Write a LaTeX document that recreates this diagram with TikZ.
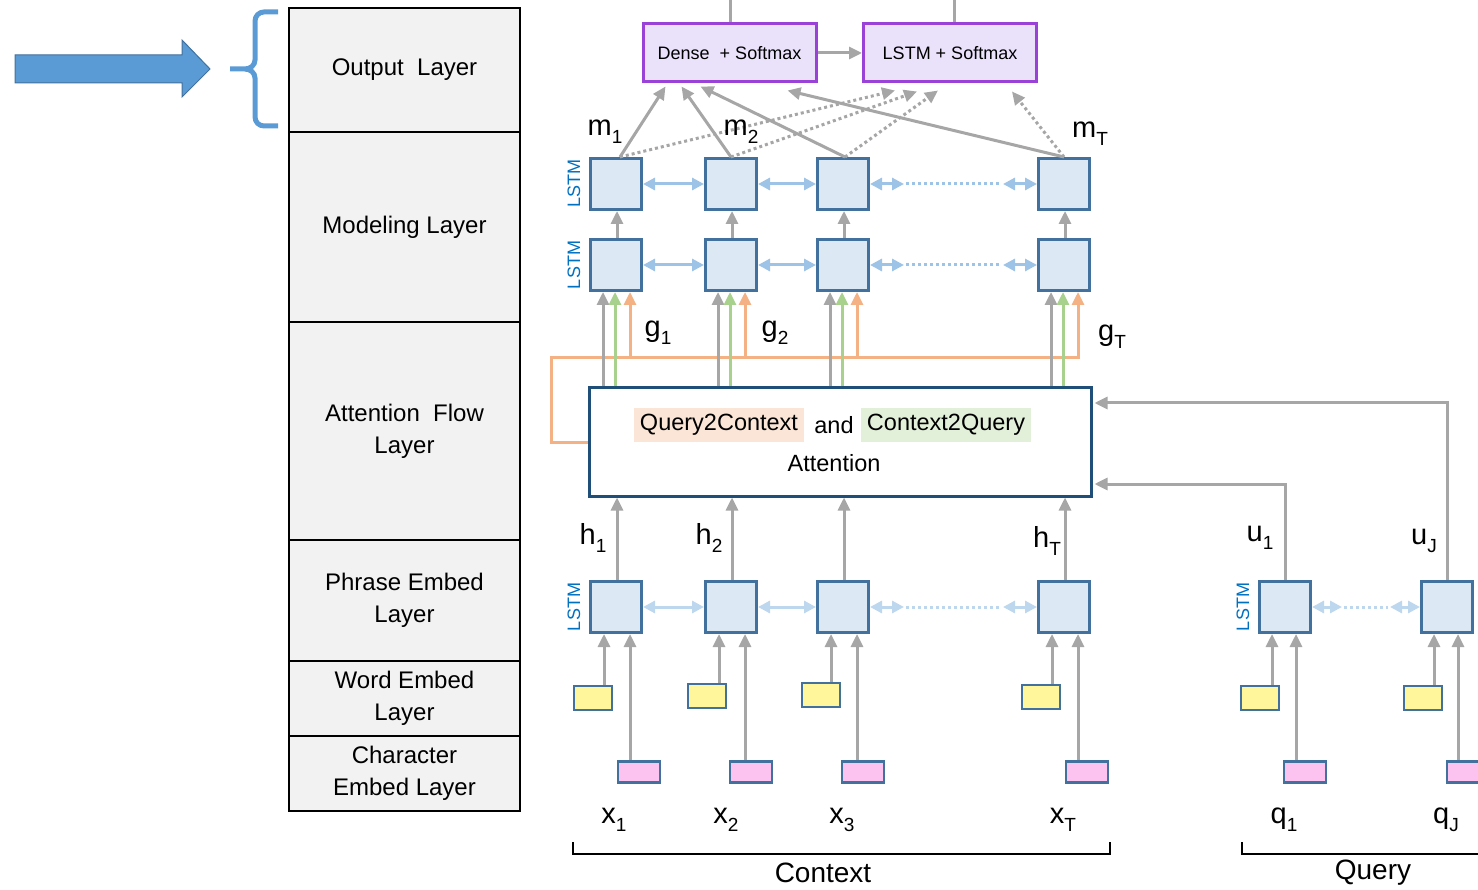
\documentclass[tikz,border=0pt]{standalone}
\usepackage{fontspec}
\setmainfont{Liberation Sans}
\usetikzlibrary{arrows.meta,calc}

\definecolor{laybg}{HTML}{F2F2F2}
\definecolor{cellbg}{HTML}{DDE8F5}
\definecolor{cellbd}{HTML}{41719C}
\definecolor{grayc}{HTML}{A6A6A6}
\definecolor{biblue}{HTML}{9DC3E6}
\definecolor{bilight}{HTML}{BDD7EE}
\definecolor{purbd}{HTML}{9A42D8}
\definecolor{purbg}{HTML}{EAE1FB}
\definecolor{attbd}{HTML}{1F4E79}
\definecolor{lstmtxt}{HTML}{0070C0}
\definecolor{yel}{HTML}{FFF59A}
\definecolor{pnk}{HTML}{FCC3F0}
\definecolor{orng}{HTML}{F4B183}
\definecolor{grn}{HTML}{A9D18E}
\definecolor{peach}{HTML}{FBE5D6}
\definecolor{lgreen}{HTML}{E2F0D9}
\definecolor{bigblue}{HTML}{5B9BD5}

% symbol with a lowered index
\newcommand\sbs[2]{#1\raisebox{-0.28em}{\fontsize{19}{19}\selectfont #2}}

\tikzset{
  layer/.style={draw=black, line width=2.5pt, fill=laybg, minimum width=231pt,
    align=center, font=\fontsize{24}{32}\selectfont, inner sep=0pt},
  cell/.style={draw=cellbd, fill=cellbg, line width=3pt, minimum size=51pt, inner sep=0pt},
  ybox/.style={draw=cellbd, fill=yel, line width=2.5pt, minimum width=38pt,
    minimum height=24pt, inner sep=0pt},
  pbox/.style={draw=cellbd, fill=pnk, line width=2.5pt, minimum width=42pt,
    minimum height=21pt, inner sep=0pt},
  outbox/.style={draw=purbd, fill=purbg, line width=3pt, minimum width=173pt,
    minimum height=58pt, font=\fontsize{18}{20}\selectfont},
  conn/.style={draw=grayc, line width=3pt, -{Triangle[length=13pt,width=12pt]}},
  dconn/.style={conn, dash pattern=on 3pt off 3pt},
  plainline/.style={draw=grayc, line width=3pt},
  gconn/.style={draw=grn, line width=3pt, -{Triangle[length=13pt,width=12pt]}},
  oconn/.style={draw=orng, line width=3pt, -{Triangle[length=13pt,width=12pt]}},
  oline/.style={draw=orng, line width=3pt},
  bi/.style={draw=biblue, line width=3pt, {Triangle[length=12pt,width=12pt]}-{Triangle[length=12pt,width=12pt]}},
  bidot/.style={draw=biblue, line width=3pt, dash pattern=on 3pt off 3pt},
  bil/.style={bi, draw=bilight},
  bildot/.style={bidot, draw=bilight},
  lstmlab/.style={rotate=90, text=lstmtxt, font=\fontsize{18}{18}\selectfont},
  sym/.style={font=\fontsize{29}{30}\selectfont},
  attxt/.style={font=\fontsize{23.5}{25}\selectfont},
  brk/.style={draw=black, line width=2.5pt},
}

\begin{document}
\begin{tikzpicture}[x=1pt, y=-1pt]
\useasboundingbox (0,0) rectangle (1478,890);
\clip (0,0) rectangle (1478,890);

% ---- layer table ----
\node[layer, minimum height=124pt] (lout)  at (404.5,70)  {Output~~Layer};
\node[layer, minimum height=190pt] (lmod)  at (404.5,227) {Modeling Layer};
\node[layer, minimum height=218pt] (latt)  at (404.5,431) {Attention~~Flow\\Layer};
\node[layer, minimum height=121pt] (lphr)  at (404.5,600.5) {Phrase Embed\\Layer};
\node[layer, minimum height=75pt]  (lword) at (404.5,698.5) {Word Embed\\Layer};
\node[layer, minimum height=75pt]  (lchar) at (404.5,773.5) {Character\\Embed Layer};

% ---- pointer arrow and brace ----
\fill[bigblue, draw=cellbd, line width=1pt]
  (15,55) -- (182,55) -- (182,40) -- (210,69) -- (182,97) -- (182,83) -- (15,83) -- cycle;
\draw[bigblue, line width=5pt]
  (278,12) -- (264,12) to[out=180,in=90] (255,21) -- (255,60)
  to[out=-90,in=0] (245,69) -- (230,69);
\draw[bigblue, line width=5pt]
  (245,69) to[out=0,in=90] (255,78) -- (255,117)
  to[out=-90,in=180] (264,126) -- (278,126);

% ---- output layer ----
\node[outbox] (dense) at (729.5,53) {Dense~~+~Softmax};
\node[outbox] (lsoft) at (950,53)   {LSTM~+~Softmax};
\draw[plainline] ($(dense.north)+(1,0)$) -- ++(0,-25);
\draw[plainline] ($(lsoft.north)+(4,0)$) -- ++(0,-25);
\draw[conn] (dense.east) -- (lsoft.west);

% ---- modeling layer cells ----
\foreach \n/\x in {1/616,2/731,3/843,4/1064}{
  \node[cell] (m\n) at (\x,184) {};
  \node[cell] (s\n) at (\x,265) {};
  \node[cell] (p\n) at (\x,607) {};
}
\node[lstmlab] (lab1) at (574,184) {LSTM};
\node[lstmlab] (lab2) at (574,265) {LSTM};
\node[lstmlab] (lab3) at (574,607) {LSTM};

% modeling layer: lower row feeds upper row
\foreach \n in {1,2,3,4}{
  \draw[conn] ($(s\n.north)+(1,0)$) -- ($(m\n.south)+(1,0)$);
}

% bidirectional links
\foreach \r in {m,s}{
  \draw[bi] (\r1.east) -- (\r2.west);
  \draw[bi] (\r2.east) -- (\r3.west);
  \draw[bi] (\r3.east) -- ($(\r3.east)+(34,0)$);
  \draw[bidot] ($(\r3.east)+(36,0)$) -- ($(\r4.west)+(-36,0)$);
  \draw[bi] ($(\r4.west)+(-34,0)$) -- (\r4.west);
}
\draw[bil] (p1.east) -- (p2.west);
\draw[bil] (p2.east) -- (p3.west);
\draw[bil] (p3.east) -- ($(p3.east)+(34,0)$);
\draw[bildot] ($(p3.east)+(36,0)$) -- ($(p4.west)+(-36,0)$);
\draw[bil] ($(p4.west)+(-34,0)$) -- (p4.west);

% outputs into the two softmax heads
\draw[conn]  ($(m1.north)+(4,0)$) -- ($(dense.south)+(-64,3)$);
\draw[conn]  (m2.north) -- ($(dense.south)+(-48,3)$);
\draw[conn]  ($(m3.north)+(2,0)$) -- ($(dense.south)+(-29,3)$);
\draw[conn]  (m4.north) -- ($(dense.south)+(58,7)$);
\draw[dconn] ($(m1.north)+(4,0)$) -- ($(lsoft.south)+(-55,7)$);
\draw[dconn] (m2.north) -- ($(lsoft.south)+(-33,8)$);
\draw[dconn] ($(m3.north)+(2,0)$) -- ($(lsoft.south)+(-12,7)$);
\draw[dconn] (m4.north) -- ($(lsoft.south)+(62,8)$);

% ---- attention flow ----
\node[draw=attbd, line width=3pt, fill=white, minimum width=502pt, minimum height=108pt] (att) at (840,442) {};
\node[attxt, fill=peach, minimum height=33pt, inner xsep=6pt] (q2c) at (719,425) {Query2Context};
\node[attxt, minimum height=33pt] (andw) at (834,425) {and};
\node[attxt, fill=lgreen, minimum height=33pt, inner xsep=6pt] (c2q) at (946,425) {Context2Query};
\node[attxt] (attw) at (834,463) {Attention};

\coordinate (bus) at (1080,358);
\draw[oline] (att.west) -- ++(-36,0) |- (bus);
\foreach \n in {1,2,3,4}{
  \draw[conn]  ([xshift=-13pt]s\n.south |- att.north) -- ([xshift=-13pt]s\n.south);
  \draw[gconn] ([xshift=-1pt]s\n.south |- att.north) -- ([xshift=-1pt]s\n.south);
  \draw[oconn] ([xshift=14pt]s\n.south |- bus) -- ([xshift=14pt]s\n.south);
  \draw[conn]  ([xshift=1pt]p\n.north) -- ([xshift=1pt]p\n.north |- att.south);
}

% ---- query side ----
\node[cell] (qp1) at (1285,607) {};
\node[cell] (qp2) at (1447,607) {};
\node[lstmlab] (lab4) at (1243,607) {LSTM};
\draw[bil] (qp1.east) -- ($(qp1.east)+(30,0)$);
\draw[bildot] ($(qp1.east)+(32,0)$) -- ($(qp2.west)+(-32,0)$);
\draw[bil] ($(qp2.west)+(-30,0)$) -- (qp2.west);
\draw[conn] (qp1.north) |- ($(att.east)+(2,42)$);
\draw[conn] (qp2.north) |- ($(att.east)+(2,-39)$);

% ---- word and character embeddings ----
\foreach \n/\yx/\yy/\kx in {1/593/698/639, 2/707/696/751, 3/821/695/863, 4/1041/697/1087}{
  \node[ybox] (y\n) at (\yx,\yy) {};
  \node[pbox] (k\n) at (\kx,772) {};
  \draw[conn] ([xshift=-12pt]p\n.south |- y\n.north) -- ([xshift=-12pt]p\n.south);
  \draw[conn] ([xshift=14pt]p\n.south |- k\n.north) -- ([xshift=14pt]p\n.south);
}
\node[ybox] (qy1) at (1260,698) {};
\node[pbox] (qk1) at (1305,772) {};
\node[ybox] (qy2) at (1423,698) {};
\node[pbox] (qk2) at (1468,772) {};
\foreach \n in {1,2}{
  \draw[conn] ([xshift=-13pt]qp\n.south |- qy\n.north) -- ([xshift=-13pt]qp\n.south);
  \draw[conn] ([xshift=11pt]qp\n.south |- qk\n.north) -- ([xshift=11pt]qp\n.south);
}

% ---- symbols ----
\node[sym] (tm1) at (605,132) {\sbs{m}{1}};
\node[sym] (tm2) at (741,132) {\sbs{m}{2}};
\node[sym] (tmT) at (1090,134) {\sbs{m}{T}};
\node[sym] (tg1) at (658,333) {\sbs{g}{1}};
\node[sym] (tg2) at (775,333) {\sbs{g}{2}};
\node[sym] (tgT) at (1112,337) {\sbs{g}{T}};
\node[sym] (th1) at (593,538) {\sbs{h}{1}};
\node[sym] (th2) at (709,538) {\sbs{h}{2}};
\node[sym] (thT) at (1047,541) {\sbs{h}{T}};
\node[sym] (tu1) at (1260,538) {\sbs{u}{1}};
\node[sym] (tuJ) at (1424,541) {\sbs{u}{J}};
\node[sym] (tx1) at (614,820) {\sbs{x}{1}};
\node[sym] (tx2) at (726,820) {\sbs{x}{2}};
\node[sym] (tx3) at (842,820) {\sbs{x}{3}};
\node[sym] (txT) at (1063,820) {\sbs{x}{T}};
\node[sym] (tq1) at (1284,820) {\sbs{q}{1}};
\node[sym] (tqJ) at (1446,820) {\sbs{q}{J}};

% ---- bottom brackets ----
\draw[brk] (573,842) -- (573,854) -- (1110,854) -- (1110,842);
\draw[brk] (1242,842) -- (1242,854) -- (1490,854);
\node[font=\fontsize{28}{30}\selectfont] (tctx) at (823,873) {Context};
\node[font=\fontsize{28}{30}\selectfont] (tqry) at (1373,873) {Query};
\end{tikzpicture}
\end{document}
